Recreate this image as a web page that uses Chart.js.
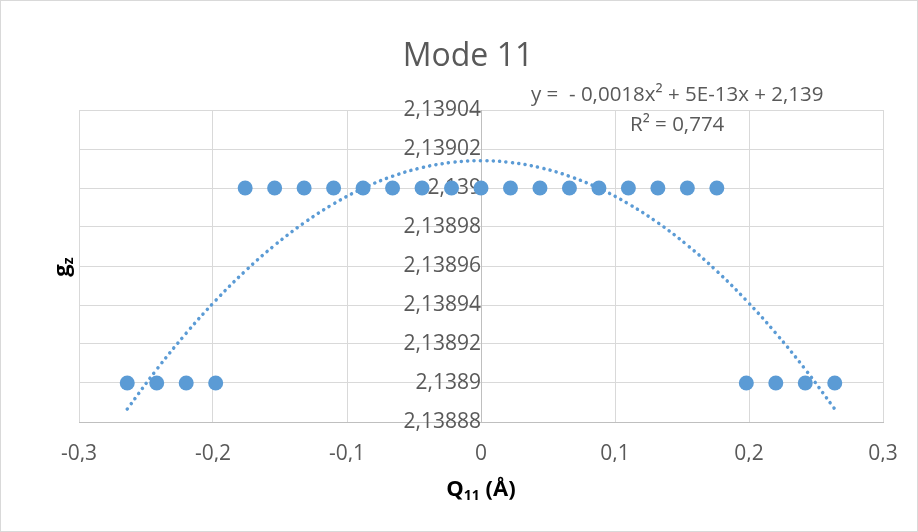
<!DOCTYPE html>
<html>
<head>
<meta charset="utf-8">
<script src="https://cdn.jsdelivr.net/npm/chart.js@4.4.1/dist/chart.umd.min.js"></script>
<style>
  html, body { margin: 0; padding: 0; background: #fff; }
  #wrap { width: 918px; height: 532px; }
</style>
</head>
<body>
<div id="wrap"><canvas id="modeChart" width="918" height="532"></canvas></div>
<script>
// values
const qValues = [
    -0.264, -0.242, -0.220, -0.198, -0.176, -0.154, -0.132, -0.110, -0.088,
    -0.066, -0.044, -0.022, 0, 0.022, 0.044, 0.066, 0.088, 0.110, 0.132,
    0.154, 0.176, 0.198, 0.220, 0.242, 0.264
];
const gzValues = [
    2.1389, 2.1389, 2.1389, 2.1389, 2.139, 2.139, 2.139, 2.139, 2.139,
    2.139, 2.139, 2.139, 2.139, 2.139, 2.139, 2.139, 2.139, 2.139, 2.139,
    2.139, 2.139, 2.1389, 2.1389, 2.1389, 2.1389
];
const xTicks = [-0.3, -0.2, -0.1, 0, 0.1, 0.2, 0.3];
const yTicks = [2.13888, 2.1389, 2.13892, 2.13894, 2.13896, 2.13898, 2.139, 2.13902, 2.13904];

const titleText = 'Mode 11';
const equationText = 'y =  - 0,0018x² + 5E-13x + 2,139';
const r2Text = 'R² = 0,774';

const BLUE = '#5B9BD5';
const TEXT_GRAY = '#595959';
const GRID = '#d9d9d9';
const AXIS = '#bfbfbf';
const FONT = '"Open Sans", "Noto Sans", sans-serif';

// polynomial trendline (order 2), least squares like Excel does it
function quadFit(xs, ys) {
    const s = [0, 0, 0, 0, 0];
    const t = [0, 0, 0];
    xs.forEach((x, i) => {
        for (let k = 0; k < 5; k++) s[k] += Math.pow(x, k);
        for (let k = 0; k < 3; k++) t[k] += Math.pow(x, k) * ys[i];
    });
    const m = [
        [s[0], s[1], s[2], t[0]],
        [s[1], s[2], s[3], t[1]],
        [s[2], s[3], s[4], t[2]]
    ];
    for (let c = 0; c < 3; c++) {
        for (let r = c + 1; r < 3; r++) {
            const f = m[r][c] / m[c][c];
            for (let k = c; k < 4; k++) m[r][k] -= f * m[c][k];
        }
    }
    const coef = [0, 0, 0];
    for (let r = 2; r >= 0; r--) {
        let v = m[r][3];
        for (let k = r + 1; k < 3; k++) v -= m[r][k] * coef[k];
        coef[r] = v / m[r][r];
    }
    return x => coef[0] + coef[1] * x + coef[2] * x * x;
}

const trend = quadFit(qValues, gzValues);
const trendPoints = qValues.map(x => ({ x: x, y: trend(x) }));
const scatterPoints = qValues.map((x, i) => ({ x: x, y: gzValues[i] }));

const fmt = v => String(+v.toFixed(5)).replace('.', ',');

const textPlugin = {
    id: 'excelText',
    afterDraw(chart) {
        const ctx = chart.ctx;
        ctx.save();
        ctx.strokeStyle = GRID;
        ctx.lineWidth = 1;
        ctx.strokeRect(0.5, 0.5, 917, 531);

        ctx.fillStyle = TEXT_GRAY;
        ctx.textBaseline = 'middle';
        ctx.textAlign = 'center';
        ctx.font = '32px ' + FONT;
        ctx.fillText(titleText, 468, 57);

        ctx.textAlign = 'left';
        ctx.font = '20.5px ' + FONT;
        ctx.fillText(equationText, 531, 95);
        ctx.fillText(r2Text, 630, 125);

        // x axis title: Q11 (Å)
        ctx.fillStyle = '#000';
        const big = 'bold 22px ' + FONT;
        const small = 'bold 14px ' + FONT;
        ctx.font = big;
        const wQ = ctx.measureText('Q').width;
        const wTail = ctx.measureText(' (Å)').width;
        ctx.font = small;
        const wSub = ctx.measureText('11').width;
        let x = 481 - (wQ + wSub + wTail) / 2;
        const y = 490;
        ctx.font = big;
        ctx.fillText('Q', x, y);
        x += wQ;
        ctx.font = small;
        ctx.fillText('11', x, y + 6);
        x += wSub;
        ctx.font = big;
        ctx.fillText(' (Å)', x, y);

        // y axis title: gz
        ctx.translate(63, 267);
        ctx.rotate(-Math.PI / 2);
        ctx.font = big;
        const wg = ctx.measureText('g').width;
        ctx.font = small;
        const wz = ctx.measureText('z').width;
        const gx = -(wg + wz) / 2;
        ctx.font = big;
        ctx.fillText('g', gx, 0);
        ctx.font = small;
        ctx.fillText('z', gx + wg, 6);
        ctx.restore();
    }
};

new Chart(document.getElementById('modeChart'), {
    type: 'scatter',
    data: {
        datasets: [
            {
                label: 'trend',
                data: trendPoints,
                showLine: true,
                borderColor: BLUE,
                borderWidth: 3.5,
                borderDash: [0.1, 6.3],
                borderCapStyle: 'round',
                tension: 0.4,
                pointRadius: 0,
                order: 0
            },
            {
                label: 'gz',
                data: scatterPoints,
                backgroundColor: BLUE,
                borderColor: BLUE,
                pointRadius: 7.5,
                borderWidth: 0,
                order: 1
            }
        ]
    },
    options: {
        responsive: false,
        animation: false,
        layout: { padding: { left: 79, right: 35, top: 110, bottom: 70 } },
        plugins: { legend: { display: false }, tooltip: { enabled: false } },
        scales: {
            x: {
                type: 'linear',
                min: -0.3,
                max: 0.3,
                afterBuildTicks: s => { s.ticks = xTicks.map(v => ({ value: v })); },
                afterFit: s => { s.height = 40; },
                grid: { color: GRID, drawTicks: false },
                border: { color: AXIS },
                ticks: {
                    color: TEXT_GRAY,
                    padding: 19,
                    font: { family: FONT, size: 21 },
                    callback: v => fmt(v)
                }
            },
            y: {
                type: 'linear',
                position: { x: 0 },
                min: 2.13888,
                max: 2.13904,
                afterBuildTicks: s => { s.ticks = yTicks.map(v => ({ value: v })); },
                grid: { color: GRID, drawTicks: true, tickLength: 19, tickColor: 'rgba(0,0,0,0)' },
                border: { color: AXIS },
                ticks: {
                    color: TEXT_GRAY,
                    padding: 0,
                    font: { family: FONT, size: 21 },
                    callback: v => fmt(v)
                }
            }
        }
    },
    plugins: [textPlugin]
});
</script>
</body>
</html>
